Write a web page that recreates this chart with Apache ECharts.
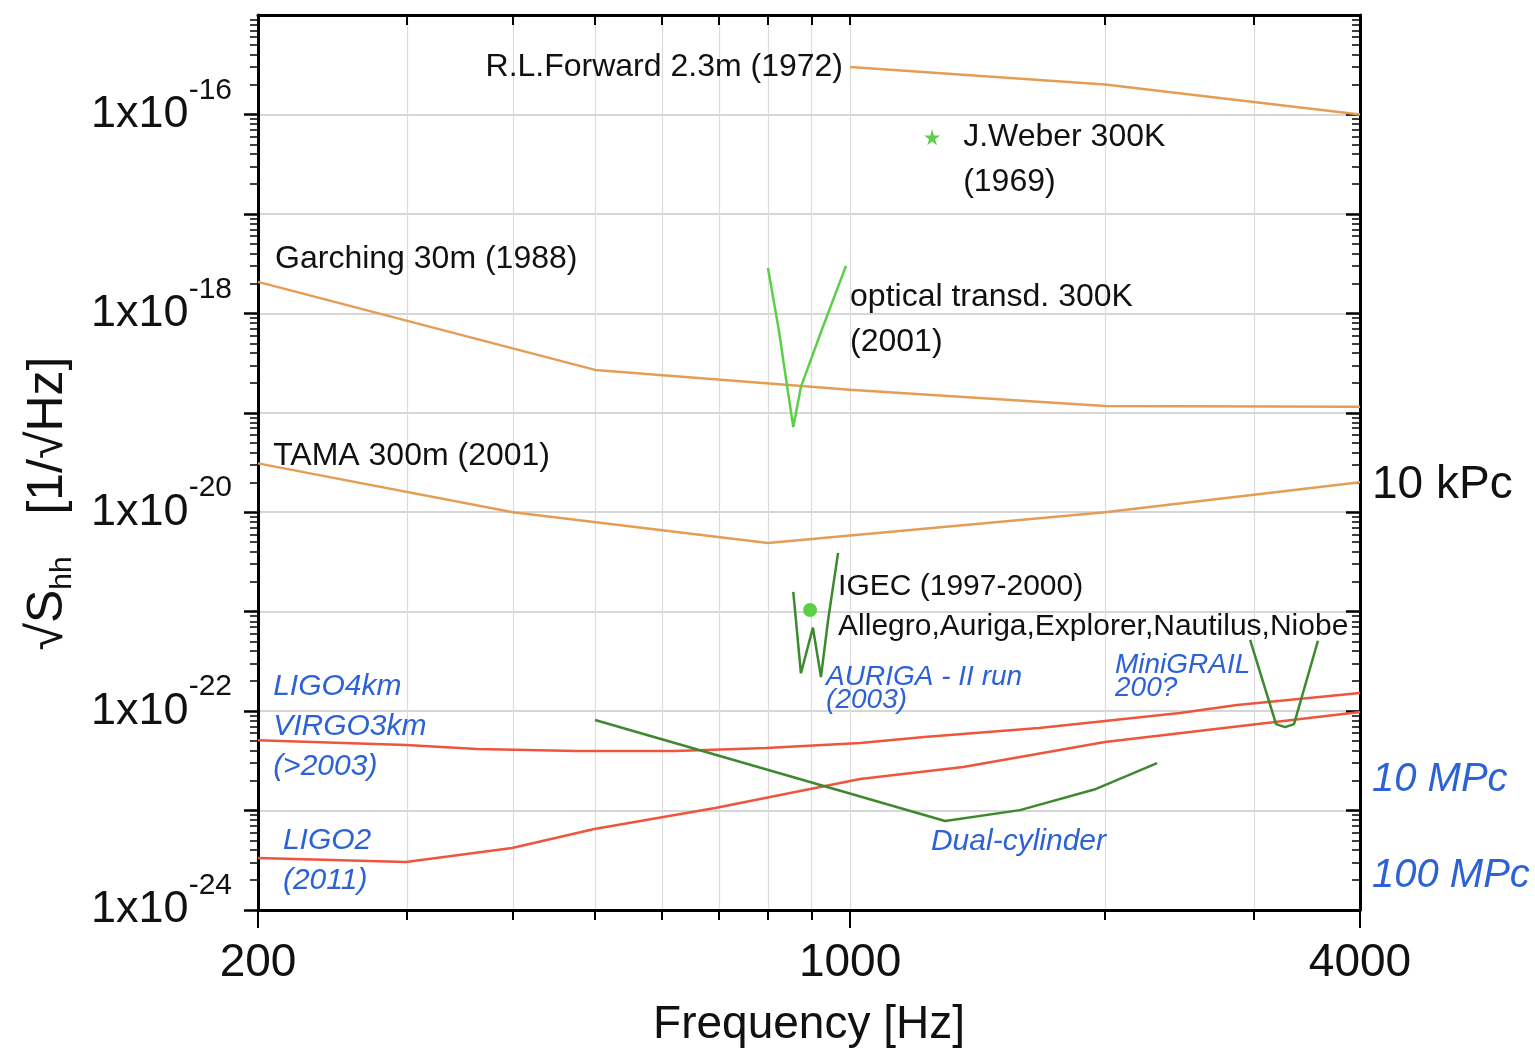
<!DOCTYPE html>
<html>
<head>
<meta charset="utf-8">
<title>Detector sensitivity vs frequency</title>
<script src="https://cdn.jsdelivr.net/npm/echarts@6/dist/echarts.min.js"></script>
<style>
  html, body { margin: 0; padding: 0; background: #fff; }
  #chart { width: 1535px; height: 1052px; }
</style>
</head>
<body>
<div id="chart"></div>
<script>
// [frequency Hz, sqrt(Shh) 1/sqrt(Hz)]
var forward = [[1000, 3.0e-16], [2000, 2.0e-16], [4000, 1.0e-16]];
var weber = [[1250, 5.9e-17]];
var garching = [[200, 2.07e-18], [500, 2.7e-19], [1000, 1.7e-19], [2000, 1.17e-19], [4000, 1.15e-19]];
var tama = [[200, 3.1e-20], [400, 1.0e-20], [800, 4.9e-21], [2000, 1.0e-20], [4000, 2.0e-20]];
var optical = [[800, 2.86e-18], [824, 6.8e-19], [843, 1.82e-19], [857, 7.2e-20], [875, 1.82e-19], [926, 6.8e-19], [989, 3.0e-18]];
var igec = [[897, 1.04e-21]];
var auriga = [[857, 1.58e-21], [875, 2.4e-22], [904, 6.9e-22], [924, 2.2e-22], [942, 8.2e-22], [968, 3.9e-21]];
var minigrail = [[2967, 5.2e-22], [3184, 7.4e-23], [3263, 6.9e-23], [3343, 7.4e-23], [3568, 5.1e-22]];
var dualCylinder = [[500, 8.15e-23], [1295, 7.85e-24], [1587, 1.01e-23], [1952, 1.65e-23], [2304, 3.0e-23]];
var ligoVirgo = [[200, 5.1e-23], [299, 4.56e-23], [363, 4.16e-23], [475, 3.97e-23], [622, 3.97e-23], [796, 4.26e-23],
  [1028, 4.77e-23], [1223, 5.5e-23], [1672, 6.76e-23], [2453, 9.57e-23], [2863, 1.15e-22], [4000, 1.52e-22]];
var ligo2 = [[200, 3.33e-24], [299, 3.04e-24], [399, 4.2e-24], [499, 6.53e-24], [693, 1.06e-23], [1028, 2.08e-23],
  [1360, 2.74e-23], [2000, 4.89e-23], [4000, 9.8e-23]];

// axes
var xRange = [200, 4000];
var xMajorTicks = [200, 1000, 4000];
var xAllTicks = [200, 300, 400, 500, 600, 700, 800, 900, 1000, 2000, 3000, 4000];
var yRange = [1e-24, 1e-15];
var yLabelValues = [1e-24, 1e-22, 1e-20, 1e-18, 1e-16];
var distNearNames = ['10 kPc'];
var distNearValues = [1.88e-20];
var distFarNames = ['10 MPc', '100 MPc'];
var distFarValues = [2.03e-23, 2.2e-24];

// annotations: text and the data point at its left edge (or right edge for rightNotes)
var rightNotes = [{ text: 'R.L.Forward 2.3m (1972)', at: [981, 3.0e-16] }];
var blackNotes = [
  { text: 'J.Weber 300K\n(1969)', at: [1360, 3.52e-17] },
  { text: 'Garching 30m (1988)', at: [209.5, 3.52e-18] },
  { text: 'optical transd. 300K\n(2001)', at: [1000, 8.67e-19] },
  { text: 'TAMA 300m (2001)', at: [208.4, 3.68e-20] }
];
var igecNotes = [{ text: 'IGEC (1997-2000)\nAllegro,Auriga,Explorer,Nautilus,Niobe', at: [968, 1.11e-21] }];
var blueNotes = [
  { text: 'LIGO4km\nVIRGO3km\n(>2003)', at: [208.4, 7.0e-23] },
  { text: 'LIGO2\n(2011)', at: [214, 3.11e-24] },
  { text: 'Dual-cylinder', at: [1246, 4.83e-24] }
];
var tightBlueNotes = [
  { text: 'AURIGA - II run\n(2003)', at: [937, 1.69e-22] },
  { text: 'MiniGRAIL\n200?', at: [2055, 2.23e-22] }
];

// the log scale rounds very small powers of ten to 0, so plot in units of 1e-24
var SCALE = 1e24;
function toPlot(pts) {
  return pts.map(function (p) { return [p[0], p[1] * SCALE]; });
}
function near(a, list) {
  for (var i = 0; i < list.length; i++) {
    if (Math.abs(Math.log10(a) - Math.log10(list[i] * SCALE)) < 0.01) return i;
  }
  return -1;
}

var decadeTicks = [], minorTicks = [];
for (var n = 0; n <= 9; n++) {
  decadeTicks.push(Math.pow(10, n));
  if (n < 9) for (var k = 2; k <= 9; k++) minorTicks.push(k * Math.pow(10, n));
}

var FONT = '"Liberation Sans", Arial, Helvetica, sans-serif';
var ORANGE = '#e59c55', RED = '#ef553c', LIGHT_GREEN = '#5bd046', DARK_GREEN = '#3c892e', BLUE = '#2c62d6';
var STAR = 'path://M50,0 L61,35 L98,35 L68,57 L79,91 L50,70 L21,91 L32,57 L2,35 L39,35 Z';

function curve(name, pts, color) {
  return {
    name: name, type: 'line', data: toPlot(pts), showSymbol: false, symbol: 'none',
    lineStyle: { color: color, width: 2.5 }, silent: true, z: 3
  };
}
function notes(list, position, style) {
  return {
    type: 'scatter', silent: true, symbolSize: 0, z: 6,
    itemStyle: { opacity: 1 },
    data: list.map(function (d) {
      return { value: [d.at[0], d.at[1] * SCALE], label: { formatter: d.text } };
    }),
    label: Object.assign({ show: true, position: position, distance: 0, opacity: 1, fontFamily: FONT }, style)
  };
}

var tickLine = { color: '#000', width: 2 };
var frame = { show: true, lineStyle: { color: '#000', width: 3 } };

var myChart = echarts.init(document.getElementById('chart'));
var option = {
  animation: false,
  backgroundColor: '#fff',
  grid: { left: 258, right: 175, top: 15, bottom: 142, containLabel: false, outerBoundsMode: 'none' },
  xAxis: [
    {
      type: 'log', position: 'bottom', min: xRange[0], max: xRange[1],
      axisLine: frame,
      axisTick: { show: true, inside: false, length: 18, customValues: xMajorTicks, lineStyle: tickLine },
      axisLabel: {
        customValues: xMajorTicks, margin: 30, fontSize: 46, color: '#111', fontFamily: FONT,
        formatter: function (v) { return String(Math.round(v)); }
      },
      splitLine: { show: false },
      name: 'Frequency [Hz]', nameLocation: 'middle', nameGap: 92,
      nameTextStyle: { fontSize: 46, color: '#111', fontFamily: FONT }
    },
    {
      type: 'log', position: 'bottom', min: xRange[0], max: xRange[1],
      axisLine: { show: false },
      axisTick: { show: true, inside: false, length: 10, customValues: xAllTicks, lineStyle: tickLine },
      axisLabel: { show: false },
      splitLine: { show: true, lineStyle: { color: '#dcdcdc', width: 1.2 } }
    },
    {
      type: 'log', position: 'top', min: xRange[0], max: xRange[1],
      axisLine: frame,
      axisTick: { show: true, inside: true, length: 10, customValues: xAllTicks, lineStyle: tickLine },
      axisLabel: { show: false },
      splitLine: { show: false }
    }
  ],
  yAxis: [
    {
      type: 'log', position: 'left', min: yRange[0] * SCALE, max: yRange[1] * SCALE,
      axisLine: frame,
      axisTick: { show: true, inside: false, length: 14, customValues: decadeTicks, lineStyle: { color: '#000', width: 2.5 } },
      axisLabel: {
        customValues: yLabelValues.map(function (v) { return v * SCALE; }),
        margin: 26, color: '#111', fontFamily: FONT,
        formatter: function (v) {
          var e = Math.round(Math.log10(v)) - 24;
          return '{m|1x10}{e|' + e + '}';
        },
        rich: {
          m: { fontSize: 45, lineHeight: 78, fontFamily: FONT, color: '#111' },
          e: { fontSize: 30, lineHeight: 30, verticalAlign: 'top', fontFamily: FONT, color: '#111' }
        }
      },
      splitLine: { show: true, lineStyle: { color: '#c8c8c8', width: 1.5 } },
      name: '√S{s|hh}   [1/√Hz]', nameLocation: 'middle', nameGap: 180,
      nameTextStyle: {
        fontSize: 50, lineHeight: 60, color: '#111', fontFamily: FONT, padding: [0, 82, 0, 0],
        rich: { s: { fontSize: 30, lineHeight: 30, verticalAlign: 'bottom', fontFamily: FONT, color: '#111' } }
      }
    },
    {
      type: 'log', position: 'left', min: yRange[0] * SCALE, max: yRange[1] * SCALE,
      axisLine: { show: false },
      axisTick: { show: true, inside: false, length: 8, customValues: minorTicks, lineStyle: { color: '#000', width: 1.5 } },
      axisLabel: { show: false },
      splitLine: { show: false }
    },
    {
      type: 'log', position: 'right', min: yRange[0] * SCALE, max: yRange[1] * SCALE,
      axisLine: frame,
      axisTick: { show: true, inside: true, length: 8, customValues: minorTicks, lineStyle: { color: '#000', width: 1.5 } },
      axisLabel: {
        customValues: distNearValues.concat(distFarValues).map(function (v) { return v * SCALE; }),
        margin: 12,
        formatter: function (v) {
          var i = near(v, distNearValues);
          if (i >= 0) return '{k|' + distNearNames[i] + '}';
          i = near(v, distFarValues);
          return i >= 0 ? '{b|' + distFarNames[i] + '}' : '';
        },
        rich: {
          k: { fontSize: 46, color: '#111', fontFamily: FONT },
          b: { fontSize: 40, color: BLUE, fontStyle: 'italic', fontFamily: FONT }
        }
      },
      splitLine: { show: false }
    },
    {
      type: 'log', position: 'right', min: yRange[0] * SCALE, max: yRange[1] * SCALE,
      axisLine: { show: false },
      axisTick: { show: true, inside: true, length: 14, customValues: decadeTicks, lineStyle: { color: '#000', width: 2.5 } },
      axisLabel: { show: false },
      splitLine: { show: false }
    }
  ],
  series: [
    curve('R.L.Forward 2.3m (1972)', forward, ORANGE),
    curve('Garching 30m (1988)', garching, ORANGE),
    curve('TAMA 300m (2001)', tama, ORANGE),
    curve('LIGO4km / VIRGO3km', ligoVirgo, RED),
    curve('LIGO2 (2011)', ligo2, RED),
    curve('optical transd. 300K (2001)', optical, LIGHT_GREEN),
    curve('AURIGA - II run (2003)', auriga, DARK_GREEN),
    curve('MiniGRAIL', minigrail, DARK_GREEN),
    curve('Dual-cylinder', dualCylinder, DARK_GREEN),
    {
      name: 'J.Weber 300K (1969)', type: 'scatter', data: toPlot(weber), symbol: STAR, symbolSize: 16,
      itemStyle: { color: LIGHT_GREEN, opacity: 1 }, silent: true, z: 4
    },
    {
      name: 'IGEC (1997-2000)', type: 'scatter', data: toPlot(igec), symbol: 'circle', symbolSize: 14,
      itemStyle: { color: LIGHT_GREEN, opacity: 1 }, silent: true, z: 4
    },
    notes(rightNotes, 'left', { fontSize: 32, color: '#111' }),
    notes(blackNotes, 'right', { fontSize: 32, lineHeight: 45, color: '#111' }),
    notes(igecNotes, 'right', { fontSize: 30, lineHeight: 40, color: '#111' }),
    notes(blueNotes, 'right', { fontSize: 30, lineHeight: 40, color: BLUE, fontStyle: 'italic' }),
    notes(tightBlueNotes, 'right', { fontSize: 28, lineHeight: 23, color: BLUE, fontStyle: 'italic' })
  ]
};

option && myChart.setOption(option);
</script>
</body>
</html>
